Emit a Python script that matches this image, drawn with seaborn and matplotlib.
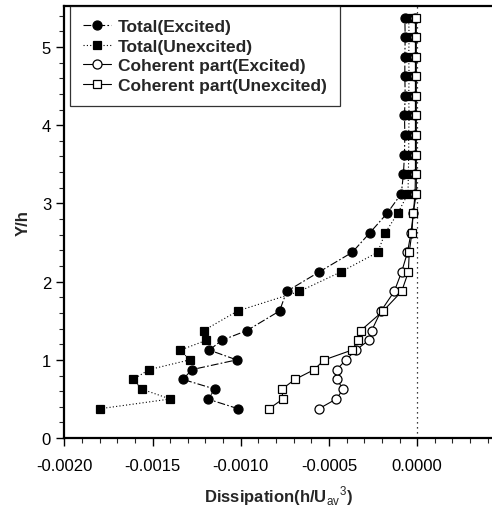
import numpy as np
import pandas as pd
import seaborn as sns
import matplotlib.pyplot as plt
from matplotlib.ticker import MultipleLocator, FormatStrFormatter

# y positions (Y/h) shared by all four profiles
y_pos = [0.375, 0.5, 0.625, 0.75, 0.875, 1.0, 1.125, 1.25, 1.375, 1.625, 1.875,
         2.125, 2.375, 2.625, 2.875, 3.125, 3.375, 3.625, 3.875, 4.125, 4.375,
         4.625, 4.875, 5.125, 5.375]

total_exc = [-0.001014, -0.001188, -0.001144, -0.001327, -0.001278, -0.001023,
             -0.001178, -0.001108, -0.000965, -0.000780, -0.000740, -0.000555,
             -0.000368, -0.000268, -0.000170, -0.000090, -0.000078, -0.000072,
             -0.000070, -0.000072, -0.000068, -0.000070, -0.000070, -0.000068,
             -0.000070]
total_unexc = [-0.00180, -0.00140, -0.00156, -0.00161, -0.00152, -0.00129,
               -0.001343, -0.001195, -0.00121, -0.001018, -0.000668, -0.000432,
               -0.000224, -0.000181, -0.000110, -0.000052, -0.000050, -0.000048,
               -0.000048, -0.000046, -0.000048, -0.000046, -0.000048, -0.000046,
               -0.000048]
coh_exc = [-0.000557, -0.000459, -0.000419, -0.000456, -0.000456, -0.000404,
           -0.000347, -0.000275, -0.000258, -0.000205, -0.000130, -0.000088,
           -0.000055, -0.000035, -0.000022, -0.000012, -0.000010, -0.000010,
           -0.000010, -0.000010, -0.000010, -0.000010, -0.000010, -0.000010,
           -0.000010]
coh_unexc = [-0.000840, -0.000761, -0.000767, -0.000693, -0.000584, -0.000527,
             -0.000370, -0.000336, -0.000320, -0.000193, -0.000088, -0.000050,
             -0.000045, -0.000030, -0.000023, -0.000005, -0.000005, -0.000005,
             -0.000005, -0.000005, -0.000005, -0.000005, -0.000005, -0.000005,
             -0.000005]

labels = ['Total(Excited)', 'Total(Unexcited)',
          'Coherent part(Excited)', 'Coherent part(Unexcited)']

df = pd.DataFrame({'y': y_pos, labels[0]: total_exc, labels[1]: total_unexc,
                   labels[2]: coh_exc, labels[3]: coh_unexc})

sns.set_style('ticks')
plt.rcParams['font.family'] = ['Liberation Sans', 'DejaVu Sans']
plt.rcParams['mathtext.fontset'] = 'custom'
plt.rcParams['mathtext.rm'] = 'Liberation Sans'
plt.rcParams['mathtext.bf'] = 'Liberation Sans:bold'

fig = plt.figure(figsize=(4.92, 5.10), dpi=100)
ax = fig.add_axes([0.1307, 0.139, 0.8693, 0.8467])

# style per series: marker, marker face, line style, marker size
styles = [
    ('o', 'black', (0, (7, 2, 1.5, 2)), 6.5),
    ('s', 'black', (0, (1, 2)), 5.5),
    ('o', 'white', '-', 6.5),
    ('s', 'white', '-', 5.5),
]

for lab, (mk, fc, ls, ms) in zip(labels, styles):
    sns.lineplot(data=df, x=lab, y='y', sort=False, estimator=None, ax=ax,
                 color='black', linewidth=0.8, linestyle=ls, marker=mk,
                 markersize=ms, markerfacecolor=fc, markeredgecolor='black',
                 markeredgewidth=0.9, label=lab)

# dotted reference line at zero dissipation
ax.axvline(0.0, color='black', linestyle=(0, (1, 3)), linewidth=0.9, zorder=0)

ax.set_xlim(-0.0020, 0.000424)
ax.set_ylim(0, 5.52)
ax.xaxis.set_major_locator(MultipleLocator(0.0005))
ax.xaxis.set_minor_locator(MultipleLocator(0.0001))
ax.xaxis.set_major_formatter(FormatStrFormatter('%.4f'))
ax.yaxis.set_major_locator(MultipleLocator(1))
ax.yaxis.set_minor_locator(MultipleLocator(0.2))
ax.tick_params(axis='both', which='major', direction='out', length=6,
               width=1.0, labelsize=12, colors='black')
ax.tick_params(axis='both', which='minor', direction='out', length=3.5,
               width=0.8)
ax.tick_params(axis='x', pad=8)

for side in ['left', 'bottom', 'top']:
    ax.spines[side].set_linewidth(1.6)
    ax.spines[side].set_color('black')
ax.spines['right'].set_visible(False)

ax.set_xlabel(r'Dissipation(h/U$_{\rm av}{}^{\rm 3}$)', fontsize=12,
              fontweight='bold', labelpad=8)
ax.set_ylabel('Y/h', fontsize=12, fontweight='bold', labelpad=8)

leg = ax.legend(loc='upper left', bbox_to_anchor=(70 / 492, 1 - 7 / 510),
                bbox_transform=fig.transFigure, borderaxespad=0,
                frameon=True, fancybox=False, edgecolor='black',
                prop={'weight': 'bold', 'size': 12.5}, handlelength=1.6,
                handletextpad=0.4, labelspacing=0.25, borderpad=0.75)
leg.get_frame().set_linewidth(0.9)

fig.savefig('out.png', dpi=100)
